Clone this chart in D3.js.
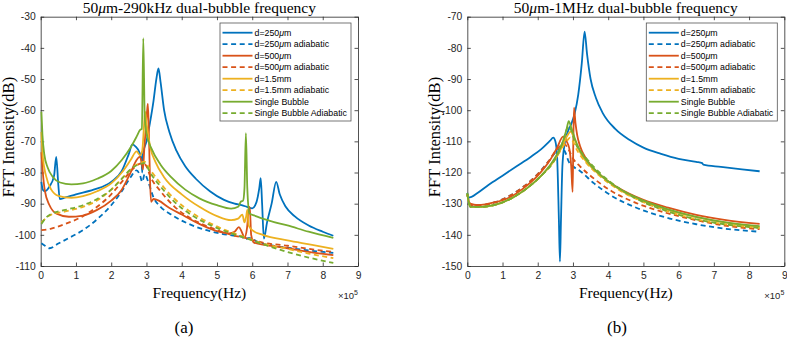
<!DOCTYPE html>
<html>
<head>
<meta charset="utf-8">
<script src="https://cdn.jsdelivr.net/npm/d3@7"></script>
<style>
  body { margin: 0; background: #fff; }
  .tick text { font-family: "Liberation Sans", Arial, sans-serif; font-size: 10.3px; fill: #262626; }
  .serif { font-family: "Liberation Serif", "Times New Roman", serif; fill: #000; }
  .legend text { font-family: "Liberation Sans", Arial, sans-serif; font-size: 8.8px; fill: #000; }
</style>
</head>
<body>
<div id="container"></div>
<script>
/* CONSTANTS AND GLOBALS */
const width = 787
const height = 339
const plotTop = 16.7, plotBottom = 266
const colors = { blue: "#0072BD", red: "#D95319", yellow: "#EDB120", green: "#77AC30" }

/* DATA: [frequency (x10^5 Hz), FFT intensity (dB)] */
// panel (a) 50um-290kHz
const a_d250 = [[0.02,-83],[0.06,-85.5],[0.12,-86],[0.25,-84.5],[0.38,-81],[0.44,-75],[0.5,-84],[0.54,-88.5],[0.7,-88],[1.0,-87],[1.5,-85.5],[2.0,-83],[2.3,-79.5],[2.5,-74],[2.6,-71],[2.7,-71.8],[2.8,-73.5],[2.86,-76],[2.88,-80],[2.9,-74],[3.0,-70],[3.1,-64],[3.2,-57],[3.28,-50],[3.34,-46.6],[3.4,-51],[3.5,-60],[3.65,-67],[3.85,-73],[4.1,-78],[4.4,-82],[4.8,-86],[5.2,-88.8],[5.5,-90],[5.7,-90.5],[5.85,-91],[6.0,-91.5],[6.12,-89.5],[6.2,-85],[6.24,-81.8],[6.28,-90],[6.33,-101.2],[6.42,-96],[6.55,-90],[6.68,-83],[6.78,-87],[6.95,-91],[7.2,-94],[7.6,-97],[8.0,-99],[8.3,-100.3]]
const a_d250ad = [[0.02,-102.7],[0.12,-103.5],[0.25,-104.3],[0.5,-102.8],[0.8,-101],[1.2,-98.5],[1.6,-95],[2.0,-90.5],[2.3,-86],[2.55,-81.5],[2.72,-79.3],[2.82,-81],[2.88,-83],[2.95,-80.5],[3.05,-83],[3.2,-88],[3.4,-91],[3.7,-93.5],[4.2,-96.5],[4.8,-98.8],[5.3,-100],[5.7,-100.6],[5.8,-101.5],[5.9,-101],[6.2,-102.5],[6.6,-103.5],[7.1,-104.3],[7.6,-105],[8.3,-105.8]]
const a_d500 = [[0.02,-73.5],[0.06,-80],[0.12,-86],[0.25,-90.5],[0.45,-93.2],[0.8,-94.2],[1.2,-93.8],[1.6,-92],[2.0,-89],[2.3,-85.5],[2.55,-80],[2.72,-76],[2.8,-75],[2.86,-76.5],[2.9,-79],[2.94,-72],[2.98,-66],[3.02,-60],[3.04,-58],[3.07,-68],[3.1,-82],[3.13,-89.4],[3.2,-88.5],[3.35,-89],[3.6,-91],[4.0,-93.5],[4.5,-96.5],[5.0,-98.8],[5.35,-99.5],[5.5,-99],[5.62,-97.5],[5.7,-99],[5.78,-100.8],[5.85,-98],[5.9,-92],[5.93,-91],[5.97,-100],[6.05,-102.5],[6.4,-103.3],[7.0,-104.3],[7.6,-105.5],[8.3,-106.5]]
const a_d500ad = [[0.02,-98.5],[0.3,-98],[0.7,-96.5],[1.2,-94],[1.6,-91],[2.0,-87],[2.3,-83],[2.6,-79],[2.8,-77.2],[2.9,-77],[3.0,-78],[3.1,-81],[3.4,-86],[3.8,-91],[4.3,-95],[4.9,-98],[5.4,-100],[5.8,-101],[6.3,-102.5],[7.0,-103.5],[7.6,-104.5],[8.3,-105.5]]
const a_d15 = [[0.02,-67],[0.06,-75],[0.15,-81],[0.3,-85.5],[0.5,-87.5],[0.87,-88.1],[1.2,-87.6],[1.6,-86],[2.0,-83.5],[2.3,-80],[2.55,-76],[2.72,-73.2],[2.82,-74.5],[2.88,-73],[2.93,-65],[2.96,-60.5],[3.0,-64],[3.05,-68],[3.12,-72.5],[3.25,-76.5],[3.5,-81.5],[4.0,-87],[4.5,-91],[5.0,-94],[5.4,-95.3],[5.6,-94.8],[5.72,-93.5],[5.78,-96],[5.83,-94],[5.86,-92],[5.9,-97],[6.0,-98.5],[6.3,-100],[7.0,-101.8],[7.7,-103.2],[8.3,-104.5]]
const a_d15ad = [[0.02,-96],[0.3,-93.5],[0.7,-92.5],[1.2,-91],[1.6,-89],[2.0,-85.5],[2.3,-82],[2.6,-78.5],[2.8,-77],[2.95,-76.5],[3.1,-79],[3.4,-83.5],[3.8,-88.5],[4.3,-93],[4.9,-96.8],[5.4,-99.2],[5.8,-100.8],[6.3,-102.8],[7.0,-104.5],[7.6,-106],[8.3,-107.5]]
const a_sb = [[0.02,-60.5],[0.05,-68],[0.1,-74],[0.2,-78.5],[0.35,-81.5],[0.55,-83.2],[0.87,-83.8],[1.2,-83.5],[1.6,-82],[2.0,-79.5],[2.3,-76],[2.55,-72],[2.72,-68.5],[2.82,-66.3],[2.87,-66],[2.91,-36.9],[2.95,-62],[3.0,-67.5],[3.15,-72.5],[3.4,-77.5],[3.7,-81.5],[4.1,-85.5],[4.5,-88.3],[5.0,-90.5],[5.4,-91.6],[5.6,-91],[5.68,-89.3],[5.74,-89],[5.78,-85],[5.82,-67.4],[5.86,-85],[5.92,-93],[6.1,-94],[6.5,-95.5],[7.0,-97],[7.6,-99],[8.3,-101]]
const a_sbad = [[0.02,-96.5],[0.15,-94.5],[0.33,-93.1],[0.7,-92],[1.2,-90.5],[1.6,-88.5],[2.0,-85.5],[2.3,-82],[2.55,-79],[2.8,-77.3],[2.95,-77],[3.1,-80],[3.4,-84.5],[3.8,-89.5],[4.3,-93.8],[4.9,-97.3],[5.4,-99.5],[5.8,-101],[6.3,-103],[7.0,-105.5],[7.6,-107.3],[8.3,-109]]

// panel (b) 50um-1MHz
const b_d250 = [[0.0,-126.5],[0.03,-128],[0.12,-127.8],[0.3,-126.5],[0.6,-124],[1.0,-121],[1.4,-118],[1.8,-115],[2.1,-112.5],[2.35,-109.8],[2.44,-108.8],[2.5,-110],[2.55,-115],[2.6,-135],[2.63,-148.6],[2.66,-135],[2.7,-118],[2.76,-111],[2.85,-107],[2.95,-104.5],[3.05,-101],[3.15,-95],[3.25,-85],[3.33,-74.8],[3.4,-82],[3.5,-90],[3.65,-96],[3.85,-101],[4.2,-106],[4.6,-109.5],[5.0,-112],[5.5,-114],[6.0,-115.6],[6.5,-116.6],[6.67,-117],[6.7,-117.5],[7.2,-118.2],[7.8,-119],[8.3,-119.6]]
const b_d250ad = [[0.0,-127],[0.1,-130.5],[0.4,-130.5],[0.8,-129.5],[1.2,-127.5],[1.6,-124.5],[2.0,-120.5],[2.3,-116.5],[2.55,-113],[2.68,-112],[2.78,-113.5],[2.88,-116.5],[3.0,-118],[3.2,-119.5],[3.6,-123.5],[4.1,-127.5],[4.8,-131.3],[5.6,-134.3],[6.5,-136.6],[7.3,-138],[8.3,-139]]
const b_d500 = [[0.0,-127],[0.08,-130],[0.3,-130.5],[0.8,-129.5],[1.2,-128],[1.6,-125],[2.0,-121],[2.35,-116],[2.55,-112],[2.72,-108.5],[2.82,-110],[2.9,-112.5],[2.95,-118],[2.99,-126.2],[3.01,-110],[3.03,-99.2],[3.07,-104],[3.12,-108],[3.2,-111.5],[3.4,-116],[3.8,-121],[4.3,-125],[5.0,-128.8],[5.7,-131.3],[6.5,-133.6],[7.3,-135.2],[8.3,-136.5]]
const b_d500ad = [[0.0,-127],[0.1,-130.5],[0.4,-130.5],[0.8,-129.5],[1.2,-127.5],[1.6,-124.5],[2.0,-120.5],[2.3,-116.5],[2.55,-112.5],[2.75,-110.8],[2.87,-112.5],[3.0,-115.5],[3.2,-118],[3.6,-122],[4.1,-126],[4.8,-129.8],[5.6,-132.8],[6.5,-135.3],[7.3,-137],[8.3,-138.2]]
const b_d15 = [[0.0,-127],[0.08,-131],[0.4,-131],[0.9,-130],[1.3,-128],[1.7,-125],[2.1,-121],[2.45,-116.5],[2.7,-111.5],[2.85,-108],[2.93,-106.9],[3.0,-108],[3.1,-111],[3.25,-114.5],[3.5,-118],[3.9,-122],[4.4,-126],[5.0,-129.2],[5.7,-132],[6.5,-134.3],[7.3,-136],[8.3,-137.5]]
const b_d15ad = [[0.0,-127],[0.1,-131],[0.4,-131],[0.9,-130],[1.3,-128],[1.7,-125],[2.1,-121],[2.45,-116.5],[2.7,-112],[2.85,-109.5],[2.92,-108.8],[3.0,-110],[3.1,-112.5],[3.35,-116.5],[3.75,-121],[4.3,-125.5],[5.0,-129.5],[5.7,-132.5],[6.5,-135],[7.3,-136.6],[8.3,-137.8]]
const b_sb = [[0.0,-126.5],[0.08,-131],[0.4,-131],[0.9,-130],[1.3,-128],[1.7,-125],[2.1,-121],[2.45,-116],[2.7,-110.5],[2.82,-106],[2.88,-103.5],[2.95,-105.5],[3.05,-109],[3.2,-113],[3.45,-117],[3.85,-121.5],[4.4,-125.8],[5.0,-129],[5.7,-131.8],[6.5,-134.2],[7.3,-135.9],[8.3,-137.2]]
const b_sbad = [[0.0,-127],[0.1,-131],[0.4,-131],[0.9,-130],[1.3,-128],[1.7,-125],[2.1,-121],[2.45,-116.5],[2.7,-110.5],[2.83,-106],[2.88,-105],[2.95,-106.5],[3.05,-110],[3.35,-115],[3.75,-120],[4.3,-125],[5.0,-129.5],[5.7,-132.5],[6.5,-135],[7.3,-136.6],[8.3,-137.8]]

// tick labels and legend
const xTicks = [0, 1, 2, 3, 4, 5, 6, 7, 8, 9]
const yTicksA = [-30, -40, -50, -60, -70, -80, -90, -100, -110]
const yTicksB = [-70, -80, -90, -100, -110, -120, -130, -140, -150]
const legendLabels = ["d=250μm", "d=250μm adiabatic", "d=500μm", "d=500μm adiabatic",
  "d=1.5mm", "d=1.5mm adiabatic", "Single Bubble", "Single Bubble Adiabatic"]
const lineColors = [colors.blue, colors.blue, colors.red, colors.red, colors.yellow, colors.yellow, colors.green, colors.green]
const dashed = [false, true, false, true, false, true, false, true]

/* CREATE SVG ELEMENT */
const svg = d3.select("#container")
  .append("svg")
  .attr("width", width)
  .attr("height", height)

// writes text, putting every μ in italic like the TeX output
function muText(sel, str) {
  str.split("μ").forEach((part, i) => {
    if (i > 0) sel.append("tspan").attr("font-style", "italic").text("μ")
    if (part) sel.append("tspan").text(part)
  })
}

function drawPanel(p) {
  const xScale = d3.scaleLinear().domain([0, 9]).range([p.left, p.right])
  const yScale = d3.scaleLinear().domain(d3.extent(p.yTicks)).range([plotBottom, plotTop])

  const g = svg.append("g")

  // AXES (ticks inside, box on)
  const xAxis = d3.axisBottom(xScale).tickValues(xTicks).tickSize(-3.5).tickSizeOuter(0).tickPadding(6).tickFormat(d => d)
  const yAxis = d3.axisLeft(yScale).tickValues(p.yTicks).tickSize(-3.5).tickSizeOuter(0).tickPadding(5).tickFormat(d => d)

  g.append("g").attr("transform", `translate(0, ${plotBottom})`).call(xAxis)
  g.append("g").attr("transform", `translate(${p.left}, 0)`).call(yAxis)
  g.append("g").attr("transform", `translate(0, ${plotTop})`)
    .call(d3.axisTop(xScale).tickValues(xTicks).tickSize(-3.5).tickSizeOuter(0).tickFormat(""))
  g.append("g").attr("transform", `translate(${p.right}, 0)`)
    .call(d3.axisRight(yScale).tickValues(p.yTicks).tickSize(-3.5).tickSizeOuter(0).tickFormat(""))
  g.selectAll(".domain, .tick line").attr("stroke", "#262626").attr("stroke-width", 0.8)

  // LINE GENERATOR
  const line = d3.line()
    .x(d => xScale(d[0]))
    .y(d => yScale(d[1]))
    .curve(d3.curveMonotoneX)

  g.selectAll(".series")
    .data(p.series)
    .join("path")
    .attr("class", "series")
    .attr("fill", "none")
    .attr("stroke", (d, i) => lineColors[i])
    .attr("stroke-width", 1.8)
    .attr("stroke-dasharray", (d, i) => dashed[i] ? "5,3.5" : null)
    .attr("d", d => line(d))

  // TITLE AND LABELS
  const title = g.append("text").attr("class", "serif")
    .attr("x", (p.left + p.right) / 2).attr("y", 12.5)
    .attr("text-anchor", "middle").attr("font-size", 15.5)
  muText(title, p.title)

  g.append("text").attr("class", "serif")
    .attr("transform", `translate(${p.left - 27}, 137) rotate(-90)`)
    .attr("text-anchor", "middle").attr("font-size", 16.5)
    .text("FFT Intensity(dB)")

  g.append("text").attr("class", "serif")
    .attr("x", (p.left + p.right) / 2).attr("y", 298)
    .attr("text-anchor", "middle").attr("font-size", 15.5)
    .text("Frequency(Hz)")

  const exp = g.append("text")
    .attr("x", p.right).attr("y", 298.5)
    .attr("text-anchor", "end")
    .attr("font-family", "Liberation Sans, Arial, sans-serif")
    .attr("font-size", 9.5).attr("fill", "#262626")
  exp.append("tspan").text("×10")
  exp.append("tspan").attr("dy", -4).attr("font-size", 7).text("5")

  g.append("text").attr("class", "serif")
    .attr("x", p.tagX).attr("y", 333)
    .attr("text-anchor", "middle").attr("font-size", 17)
    .text(p.tag)

  // LEGEND
  const lx = p.right - 138, ly = 23
  const legend = g.append("g").attr("class", "legend")
  legend.append("rect")
    .attr("x", lx).attr("y", ly).attr("width", 131).attr("height", 98)
    .attr("fill", "#fff").attr("stroke", "#555").attr("stroke-width", 0.8)

  legendLabels.forEach((lab, i) => {
    const yy = ly + 9.7 + i * 11.5
    legend.append("line")
      .attr("x1", lx + 2.5).attr("x2", lx + 32.5).attr("y1", yy).attr("y2", yy)
      .attr("stroke", lineColors[i]).attr("stroke-width", 1.8)
      .attr("stroke-dasharray", dashed[i] ? "5,3.6" : null)
    const t = legend.append("text").attr("x", lx + 34.5).attr("y", yy + 3.1)
    muText(t, lab)
  })
}

drawPanel({
  left: 40.7, right: 358, yTicks: yTicksA, tag: "(a)", tagX: 184,
  title: "50μm-290kHz dual-bubble frequency",
  series: [a_d250, a_d250ad, a_d500, a_d500ad, a_d15, a_d15ad, a_sb, a_sbad]
})

drawPanel({
  left: 467.3, right: 784.3, yTicks: yTicksB, tag: "(b)", tagX: 617,
  title: "50μm-1MHz dual-bubble frequency",
  series: [b_d250, b_d250ad, b_d500, b_d500ad, b_d15, b_d15ad, b_sb, b_sbad]
})
</script>
</body>
</html>
